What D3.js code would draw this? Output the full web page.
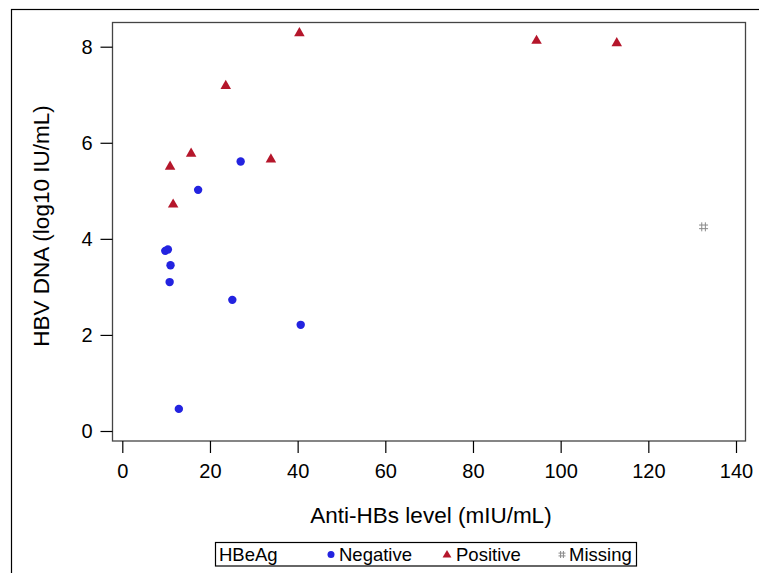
<!DOCTYPE html>
<html><head><meta charset="utf-8">
<script src="https://cdn.jsdelivr.net/npm/d3@7"></script>
<style>body{margin:0;background:#fff}svg{display:block;font-family:"Liberation Sans",Arial,sans-serif}</style>
</head><body>
<script>
const negX = [27.0, 17.3, 9.8, 10.4, 11.0, 10.8, 25.1, 40.7, 12.9];
const negY = [5.61, 5.02, 3.75, 3.78, 3.45, 3.10, 2.73, 2.21, 0.46];
const posX = [40.4, 23.6, 15.7, 10.9, 11.6, 33.9, 94.5, 112.8];
const posY = [8.30, 7.20, 5.79, 5.52, 4.73, 5.67, 8.14, 8.09];
const misX = [132.6];
const misY = [4.25];
const xTicks = [0, 20, 40, 60, 80, 100, 120, 140];
const yTicks = [0, 2, 4, 6, 8];
const legendItems = ["Negative", "Positive", "Missing"];

const W = 759, H = 573;
const svg = d3.select("body").append("svg").attr("width", W).attr("height", H);

// outer frame
svg.append("rect").attr("x", 11.5).attr("y", 9.5).attr("width", W + 10).attr("height", H + 10)
  .attr("fill", "none").attr("stroke", "#000").attr("stroke-width", 1.2);

const x = d3.scaleLinear().domain([0, 140]).range([122.3, 736]);
const y = d3.scaleLinear().domain([0, 8]).range([431, 46.7]);
const pL = 112.5, pT = 22.5, pR = 745.5, pB = 441;

svg.append("rect").attr("x", pL).attr("y", pT).attr("width", pR - pL).attr("height", pB - pT)
  .attr("fill", "none").attr("stroke", "#444").attr("stroke-width", 1.3);

const xAxis = svg.append("g").attr("transform", `translate(0,${pB})`)
  .call(d3.axisBottom(x).tickValues(xTicks).tickSize(12).tickPadding(11).tickFormat(d3.format("d")));
xAxis.select(".domain").remove();
xAxis.selectAll("line").attr("stroke", "#000").attr("stroke-width", 1.2);
xAxis.selectAll("text").attr("font-size", 20).attr("fill", "#000").attr("font-family", "Liberation Sans, Arial, sans-serif");

const yAxis = svg.append("g").attr("transform", `translate(${pL},0)`)
  .call(d3.axisLeft(y).tickValues(yTicks).tickSize(12).tickPadding(8).tickFormat(d3.format("d")));
yAxis.select(".domain").remove();
yAxis.selectAll("line").attr("stroke", "#000").attr("stroke-width", 1.2);
yAxis.selectAll("text").attr("font-size", 20).attr("fill", "#000").attr("font-family", "Liberation Sans, Arial, sans-serif");

svg.append("text").attr("x", 431).attr("y", 523).attr("text-anchor", "middle")
  .attr("font-size", 22.5).text("Anti-HBs level (mIU/mL)");
svg.append("text").attr("transform", "translate(49,226) rotate(-90)").attr("text-anchor", "middle")
  .attr("font-size", 22.5).text("HBV DNA (log10 IU/mL)");

const blue = "#2323e0", red = "#b5162b", grey = "#8a8a8a";
const tri = d3.symbol().type(d3.symbolTriangle).size(48);

function drawMissing(g, cx, cy, s) {
  const a = s * 0.2, h = s / 2;
  [-a, a].forEach(o => {
    g.append("line").attr("x1", cx + o).attr("x2", cx + o).attr("y1", cy - h).attr("y2", cy + h)
      .attr("stroke", grey).attr("stroke-width", 1);
    g.append("line").attr("y1", cy + o).attr("y2", cy + o).attr("x1", cx - h).attr("x2", cx + h)
      .attr("stroke", grey).attr("stroke-width", 1);
  });
}

const pts = svg.append("g");
pts.selectAll("circle").data(negX.map((v, i) => [v, negY[i]])).join("circle")
  .attr("cx", d => x(d[0])).attr("cy", d => y(d[1])).attr("r", 4.2).attr("fill", blue);
pts.selectAll("path.pos").data(posX.map((v, i) => [v, posY[i]])).join("path").attr("class", "pos")
  .attr("d", tri).attr("transform", d => `translate(${x(d[0])},${y(d[1]) + 0.8})`).attr("fill", red);
misX.forEach((v, i) => drawMissing(pts, x(v), y(misY[i]), 9));

// legend
const lg = svg.append("g");
lg.append("rect").attr("x", 215.5).attr("y", 542.5).attr("width", 421).attr("height", 23.5)
  .attr("fill", "none").attr("stroke", "#000").attr("stroke-width", 1.2);
lg.append("text").attr("x", 219).attr("y", 561).attr("font-size", 18.5).text("HBeAg");
const lx = [331, 447, 562];
const tx = [339, 456, 569];
lg.append("circle").attr("cx", lx[0]).attr("cy", 554.5).attr("r", 3.5).attr("fill", blue);
lg.append("path").attr("d", d3.symbol().type(d3.symbolTriangle).size(34)).attr("transform", `translate(${lx[1]},555)`).attr("fill", red);
drawMissing(lg, lx[2], 554.5, 7);
legendItems.forEach((t, i) => lg.append("text").attr("x", tx[i]).attr("y", 561).attr("font-size", 18.5).text(t));
</script>
</body></html>
